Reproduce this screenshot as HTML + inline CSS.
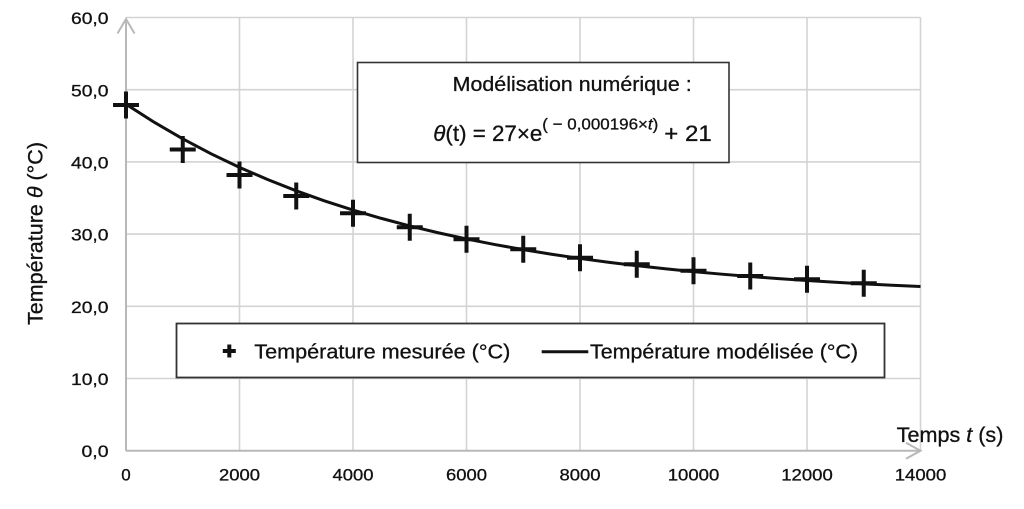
<!DOCTYPE html>
<html><head><meta charset="utf-8"><style>
html,body{margin:0;padding:0;background:#fff;}
svg{display:block;}
text{font-family:"Liberation Sans",Arial,sans-serif;fill:#111;stroke:#111;stroke-width:0.3;}
</style></head><body>
<svg width="1024" height="509" viewBox="0 0 1024 509" xmlns="http://www.w3.org/2000/svg">
<rect x="0" y="0" width="1024" height="509" fill="#fff"/>
<!-- grid -->
<g stroke="#d3d3d3" stroke-width="1.6" fill="none">
<path d="M126 17.5H920.5M126 89.7H920.5M126 161.9H920.5M126 234.1H920.5M126 306.3H920.5M126 378.5H920.5"/>
<path d="M239.5 17.5V450.7M353 17.5V450.7M466.5 17.5V450.7M580 17.5V450.7M693.5 17.5V450.7M807 17.5V450.7M920.5 17.5V450.7"/>
</g>
<!-- axes -->
<g stroke="#b8b8b8" stroke-width="2" fill="none">
<path d="M126 450.7V19"/>
<path d="M117.5 33.5L126 19L134.5 33.5"/>
<path d="M126 450.7H920"/>
<path d="M906 442.7L920.5 450.7L906 458.7"/>
</g>
<!-- model box -->
<rect x="357.5" y="62.5" width="371.5" height="100" fill="#fff" stroke="#333" stroke-width="1.6"/>
<text x="452.7" y="91" font-size="20.5" textLength="239" lengthAdjust="spacingAndGlyphs">Modélisation numérique :</text>
<text x="433.3" y="141" font-size="22" textLength="109" lengthAdjust="spacingAndGlyphs"><tspan font-style="italic">θ</tspan>(t) = 27×e</text>
<text x="542.3" y="129.5" font-size="16" textLength="116" lengthAdjust="spacingAndGlyphs">( − 0,000196×<tspan font-style="italic">t</tspan>)</text>
<text x="664.3" y="141" font-size="22" textLength="47.4" lengthAdjust="spacingAndGlyphs">+ 21</text>
<!-- legend -->
<rect x="176.5" y="323.5" width="708" height="54" fill="#fff" stroke="#333" stroke-width="1.8"/>
<path d="M222.8 351H235.8M229.3 344.5V357.5" stroke="#111" stroke-width="4"/>
<text x="254.3" y="358.5" font-size="20" textLength="256" lengthAdjust="spacingAndGlyphs">Température mesurée (°C)</text>
<path d="M541.7 351.7H588.3" stroke="#111" stroke-width="3"/>
<text x="590" y="358.5" font-size="20" textLength="268" lengthAdjust="spacingAndGlyphs">Température modélisée (°C)</text>
<!-- curve -->
<polyline fill="none" stroke="#111" stroke-width="3" stroke-linejoin="round" points="126,104.14 154.38,122.34 182.75,138.84 211.13,153.80 239.5,167.36 267.88,179.65 296.25,190.80 324.63,200.92 353,210.07 381.38,218.38 409.75,225.92 438.13,232.75 466.5,238.94 494.88,244.55 523.25,249.64 551.63,254.26 580,258.45 608.38,262.24 636.75,265.67 665.13,268.79 693.5,271.62 721.88,274.19 750.25,276.51 778.63,278.62 807,280.52 835.38,282.26 863.75,283.83 892.13,285.25 920.5,286.55"/>
<!-- markers -->
<path stroke="#111" stroke-width="4" fill="none" d="
M113 105h26M126 91.5v27
M169.75 149.5h26M182.75 136v27
M226.5 175h26M239.5 161.5v27
M283.25 196h26M296.25 182.5v27
M340 213.3h26M353 199.8v27
M396.75 227.3h26M409.75 213.8v27
M453.5 239.2h26M466.5 225.7v27
M510.25 249.3h26M523.25 235.8v27
M567 257.7h26M580 244.2v27
M623.75 264.3h26M636.75 250.8v27
M680.5 270.7h26M693.5 257.2v27
M737.25 276h26M750.25 262.5v27
M794 279.3h26M807 265.8v27
M850.75 283.3h26M863.75 269.8v27"/>
<!-- y tick labels -->
<g font-size="17" text-anchor="end">
<text x="108.5" y="24" textLength="37.5" lengthAdjust="spacingAndGlyphs">60,0</text>
<text x="108.5" y="96.3" textLength="37.5" lengthAdjust="spacingAndGlyphs">50,0</text>
<text x="108.5" y="168.4" textLength="37.5" lengthAdjust="spacingAndGlyphs">40,0</text>
<text x="108.5" y="240.6" textLength="37.5" lengthAdjust="spacingAndGlyphs">30,0</text>
<text x="108.5" y="312.8" textLength="37.5" lengthAdjust="spacingAndGlyphs">20,0</text>
<text x="108.5" y="384.9" textLength="37.5" lengthAdjust="spacingAndGlyphs">10,0</text>
<text x="108.5" y="457" textLength="27" lengthAdjust="spacingAndGlyphs">0,0</text>
</g>
<!-- x tick labels -->
<g font-size="17" text-anchor="middle">
<text x="126" y="480.5">0</text>
<text x="239.5" y="480.5" textLength="41" lengthAdjust="spacingAndGlyphs">2000</text>
<text x="353" y="480.5" textLength="41" lengthAdjust="spacingAndGlyphs">4000</text>
<text x="466.5" y="480.5" textLength="41" lengthAdjust="spacingAndGlyphs">6000</text>
<text x="580" y="480.5" textLength="41" lengthAdjust="spacingAndGlyphs">8000</text>
<text x="693.5" y="480.5" textLength="51.5" lengthAdjust="spacingAndGlyphs">10000</text>
<text x="807" y="480.5" textLength="51.5" lengthAdjust="spacingAndGlyphs">12000</text>
<text x="920.5" y="480.5" textLength="51.5" lengthAdjust="spacingAndGlyphs">14000</text>
</g>
<!-- axis titles -->
<text x="896.7" y="442" font-size="21" textLength="106.7" lengthAdjust="spacingAndGlyphs">Temps <tspan font-style="italic">t</tspan> (s)</text>
<text transform="translate(42.5,325) rotate(-90)" font-size="21" textLength="183" lengthAdjust="spacingAndGlyphs">Température <tspan font-style="italic">θ</tspan> (°C)</text>
</svg>
</body></html>
